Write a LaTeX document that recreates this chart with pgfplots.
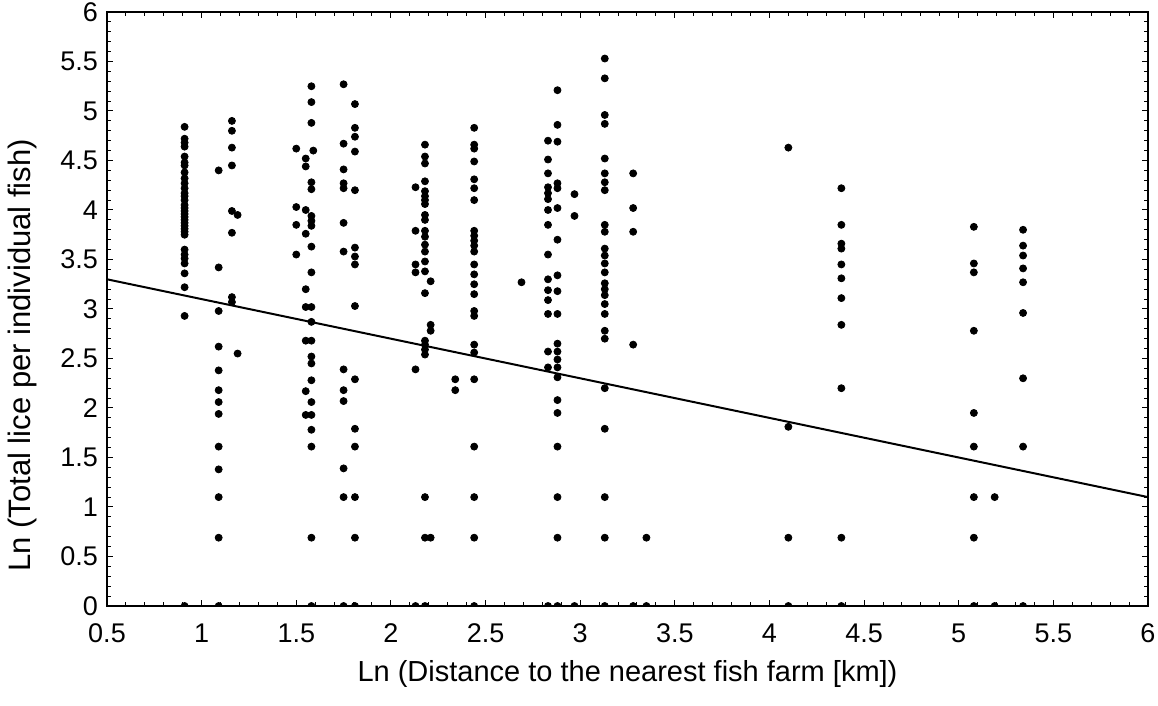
\documentclass[border=0pt]{standalone}
\usepackage{fontspec}
\setmainfont{Liberation Sans}
\usepackage{pgfplots}
\usepackage{pgfplotstable}
\pgfplotsset{compat=1.18}
\pgfplotstableread{
x y
0.91 4.84
0.91 4.72
0.91 4.68
0.91 4.64
0.91 4.54
0.91 4.48
0.91 4.45
0.91 4.38
0.91 4.32
0.91 4.27
0.91 4.22
0.91 4.17
0.91 4.14
0.91 4.10
0.91 4.05
0.91 4.02
0.91 3.99
0.91 3.96
0.91 3.93
0.91 3.90
0.91 3.87
0.91 3.84
0.91 3.81
0.91 3.78
0.91 3.75
0.91 3.60
0.91 3.55
0.91 3.51
0.91 3.46
0.91 3.36
0.91 3.22
0.91 2.93
0.91 0
1.09 4.40
1.09 3.42
1.09 2.98
1.09 2.62
1.09 2.38
1.09 2.18
1.09 2.06
1.09 1.94
1.09 1.61
1.09 1.38
1.09 1.10
1.09 0.69
1.09 0
1.16 4.90
1.16 4.80
1.16 4.63
1.16 4.45
1.16 3.99
1.16 3.77
1.16 3.12
1.16 3.07
1.19 3.95
1.19 2.55
1.50 4.62
1.50 4.03
1.50 3.85
1.50 3.55
1.58 5.25
1.58 5.09
1.58 4.88
1.59 4.60
1.58 4.28
1.58 4.21
1.58 3.94
1.58 3.89
1.58 3.84
1.58 3.63
1.58 3.37
1.58 3.02
1.58 2.87
1.58 2.68
1.58 2.52
1.58 2.45
1.58 2.28
1.58 2.06
1.58 1.93
1.58 1.78
1.58 1.61
1.58 0.69
1.58 0
1.55 4.52
1.55 4.44
1.55 4.00
1.55 3.76
1.55 3.20
1.55 3.02
1.55 2.68
1.55 2.17
1.55 1.93
1.75 5.27
1.75 4.67
1.75 4.41
1.75 4.27
1.75 4.22
1.75 3.87
1.75 3.58
1.75 2.39
1.75 2.18
1.75 2.07
1.75 1.39
1.75 1.10
1.75 0
1.81 5.07
1.81 4.83
1.81 4.74
1.81 4.59
1.81 4.20
1.81 3.62
1.81 3.53
1.81 3.45
1.81 3.03
1.81 2.29
1.81 1.79
1.81 1.61
1.81 1.10
1.81 0.69
1.81 0
2.13 4.23
2.13 3.79
2.13 3.45
2.13 3.37
2.13 2.39
2.13 0
2.18 4.66
2.18 4.54
2.18 4.47
2.18 4.29
2.18 4.19
2.18 4.14
2.18 4.10
2.18 4.06
2.18 3.95
2.18 3.90
2.18 3.79
2.18 3.73
2.18 3.65
2.18 3.58
2.18 3.48
2.18 3.38
2.18 3.16
2.18 2.68
2.18 2.64
2.18 2.59
2.18 2.54
2.18 1.10
2.18 0.69
2.18 0
2.21 3.28
2.21 2.84
2.21 2.78
2.21 0.69
2.34 2.29
2.34 2.18
2.44 4.83
2.44 4.66
2.44 4.62
2.44 4.49
2.44 4.31
2.44 4.22
2.44 4.10
2.44 3.79
2.44 3.74
2.44 3.69
2.44 3.64
2.44 3.58
2.44 3.45
2.44 3.35
2.44 3.25
2.44 3.15
2.44 2.98
2.44 2.93
2.44 2.64
2.44 2.56
2.44 2.29
2.44 1.61
2.44 1.10
2.44 0.69
2.44 0
2.69 3.27
2.83 4.70
2.83 4.51
2.83 4.37
2.83 4.23
2.83 4.17
2.83 4.11
2.83 4.00
2.83 3.85
2.83 3.55
2.83 3.30
2.83 3.19
2.83 3.09
2.83 2.95
2.83 2.57
2.83 2.41
2.83 0
2.88 5.21
2.88 4.86
2.88 4.69
2.88 4.27
2.88 4.22
2.88 4.02
2.88 3.70
2.88 3.34
2.88 3.18
2.88 2.95
2.88 2.65
2.88 2.57
2.88 2.49
2.88 2.41
2.88 2.31
2.88 2.08
2.88 1.95
2.88 1.61
2.88 1.10
2.88 0.69
2.88 0
2.97 4.16
2.97 3.94
2.97 0
3.13 5.53
3.13 5.33
3.13 4.96
3.13 4.87
3.13 4.52
3.13 4.37
3.13 4.28
3.13 4.20
3.13 3.85
3.13 3.78
3.13 3.61
3.13 3.54
3.13 3.46
3.13 3.37
3.13 3.26
3.13 3.20
3.13 3.14
3.13 3.05
3.13 2.95
3.13 2.78
3.13 2.70
3.13 2.20
3.13 1.79
3.13 1.10
3.13 0.69
3.13 0
3.28 4.37
3.28 4.02
3.28 3.78
3.28 2.64
3.28 0
3.35 0.69
3.35 0
4.10 4.63
4.10 1.81
4.10 0.69
4.10 0
4.38 4.22
4.38 3.85
4.38 3.66
4.38 3.61
4.38 3.45
4.38 3.31
4.38 3.11
4.38 2.84
4.38 2.20
4.38 0.69
4.38 0
5.08 3.83
5.08 3.46
5.08 3.37
5.08 2.78
5.08 1.95
5.08 1.61
5.08 1.10
5.08 0.69
5.08 0
5.19 1.10
5.19 0
5.34 3.80
5.34 3.64
5.34 3.54
5.34 3.41
5.34 3.27
5.34 2.96
5.34 2.30
5.34 1.61
5.34 0
}\lice
\begin{document}
\begin{tikzpicture}
\begin{axis}[
  at={(0,0)}, anchor=south west,
  scale only axis, width=520.5pt, height=297pt,
  xmin=0.5, xmax=6, ymin=0, ymax=6,
  xtick={0.5,1,...,6}, ytick={0,0.5,...,6},
  minor x tick num=4, minor y tick num=4,
  tick align=inside, ticks=both,
  major tick length=3pt, minor tick length=2pt,
  axis line style={line width=0.8pt},
  every tick/.style={black, line width=0.5pt},
  clip marker paths=true,
  /pgf/number format/assume math mode=true,
  tick label style={font=\fontsize{13.5}{16}\selectfont},
  xticklabel style={yshift=-5.5pt},
  yticklabel style={xshift=-1pt},
  xlabel={Ln (Distance to the nearest fish farm [km])},
  ylabel={Ln (Total lice per individual fish)},
  xlabel style={font=\fontsize{14.5}{17}\selectfont, at={(axis description cs:0.5,0)}, anchor=center, yshift=-34pt},
  ylabel style={font=\fontsize{15.5}{18}\selectfont, at={(axis description cs:-0.0815,0.422)}, anchor=center},
]
\addplot[only marks, mark=*, mark size=1.75pt, black] table[x=x,y=y] {\lice};
\addplot[black, line width=1pt] coordinates {(0.5,3.3) (6,1.1)};
\end{axis}
\pgfresetboundingbox
\path (-53.5pt,-50pt) rectangle (525.5pt,303pt);
\end{tikzpicture}
\end{document}
